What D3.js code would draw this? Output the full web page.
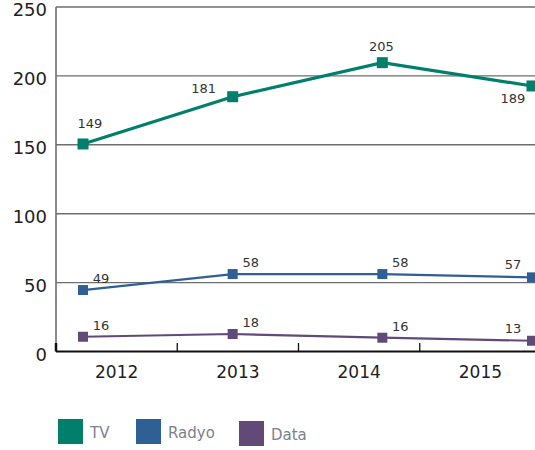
<!DOCTYPE html>
<html><head><meta charset="utf-8">
<script src="https://cdn.jsdelivr.net/npm/d3@7/dist/d3.min.js"></script>
<style>body{margin:0;background:#fff}svg{display:block;font-family:"DejaVu Sans",sans-serif}</style>
</head><body><svg id="c" width="535" height="450"></svg>
<script>
const years = ["2012","2013","2014","2015"];
const yTicks = [0,50,100,150,200,250];
const seriesNames = ["TV","Radyo","Data"];
const tvValues = [150.6,184.9,209.6,192.7];
const radyoValues = [44.6,56.2,56.2,53.8];
const dataValues = [10.7,12.7,10.0,7.8];
const tvLabels = ["149","181","205","189"];
const radyoLabels = ["49","58","58","57"];
const dataLabels = ["16","18","16","13"];
// label placement codes
const tvPlace = ["an","lf","u","ll"];
const radyoPlace = ["ur","ur","ur","ul"];
const dataPlace = ["ur","ur","ur","ul"];

const colors = {TV:"#007f6d", Radyo:"#2e5f95", Data:"#614a78"};
const series = [
  {name:"TV", values:tvValues, labels:tvLabels, place:tvPlace, width:3.2, size:11},
  {name:"Radyo", values:radyoValues, labels:radyoLabels, place:radyoPlace, width:2.2, size:10},
  {name:"Data", values:dataValues, labels:dataLabels, place:dataPlace, width:2.2, size:10}
];

const svg = d3.select("#c");
const mLeft = 56, mRight = 541, mTop = 7, mBottom = 351.5;
const y = d3.scaleLinear().domain([0,250]).range([mBottom, mTop]);
const xBand = d3.scaleBand().domain(years).range([mLeft, mRight]);
const xPt = d3.scalePoint().domain(years).range([83, 532]);

// gridlines
svg.append("g").selectAll("line").data(yTicks.filter(d=>d>0)).join("line")
  .attr("x1", mLeft).attr("x2", 535).attr("y1", d=>y(d)).attr("y2", d=>y(d))
  .attr("stroke", "#6e6e6e").attr("stroke-width", 1.4);
// y axis line
svg.append("line").attr("x1", mLeft).attr("x2", mLeft).attr("y1", mTop).attr("y2", mBottom)
  .attr("stroke", "#6e6e6e").attr("stroke-width", 1.6);
// y labels
svg.append("g").selectAll("text").data(yTicks).join("text")
  .attr("x", 47).attr("y", d=>y(d) + 9).attr("text-anchor", "end")
  .attr("font-size", 18).attr("fill", "#1e1e1e").text(d=>d);

// x axis
const xAxis = d3.axisBottom(xBand).tickSize(0).tickPadding(14);
const gx = svg.append("g").attr("transform", `translate(0,${mBottom})`).call(xAxis);
gx.select(".domain").remove();
gx.selectAll("text").attr("font-size", 17).attr("fill", "#1e1e1e").attr("font-family", "DejaVu Sans");
svg.append("line").attr("x1", mLeft).attr("x2", 535).attr("y1", mBottom).attr("y2", mBottom)
  .attr("stroke", "#111").attr("stroke-width", 2);
const bounds = [mLeft].concat(years.slice(1).map(d=>xBand(d)));
svg.append("g").selectAll("line").data(bounds).join("line")
  .attr("x1", d=>d).attr("x2", d=>d).attr("y1", mBottom-8.5).attr("y2", mBottom)
  .attr("stroke", "#111").attr("stroke-width", (d,i)=> i===0 ? 2.5 : 1.3);

// lines
const line = d3.line().x((d,i)=>xPt(years[i])).y(d=>y(d));
const offs = {an:[7,-16], lf:[-29,-4], u:[-1,-12], ll:[-19,17], ur:[18,-7], ul:[-19,-8]};
series.forEach(s=>{
  const g = svg.append("g");
  g.append("path").attr("d", line(s.values)).attr("fill","none")
    .attr("stroke", colors[s.name]).attr("stroke-width", s.width);
  g.selectAll("rect").data(s.values).join("rect")
    .attr("x", (d,i)=>xPt(years[i]) - s.size/2).attr("y", d=>y(d) - s.size/2)
    .attr("width", s.size).attr("height", s.size).attr("fill", colors[s.name]);
  g.selectAll("text").data(s.values).join("text")
    .attr("x", (d,i)=>xPt(years[i]) + offs[s.place[i]][0])
    .attr("y", (d,i)=>y(d) + offs[s.place[i]][1])
    .attr("text-anchor", "middle")
    .attr("font-size", 13).attr("fill", "#333").text((d,i)=>s.labels[i]);
});

// legend
const legX = [58, 136, 239];
const legY = [419, 419, 421];
const lg = svg.append("g");
seriesNames.forEach((n,i)=>{
  lg.append("rect").attr("x", legX[i]).attr("y", legY[i]).attr("width", 25).attr("height", 25).attr("fill", colors[n]);
  lg.append("text").attr("x", legX[i]+32).attr("y", legY[i]+18.5).attr("font-size", 15)
    .attr("fill", "#7b828d").text(n);
});
</script></body></html>
